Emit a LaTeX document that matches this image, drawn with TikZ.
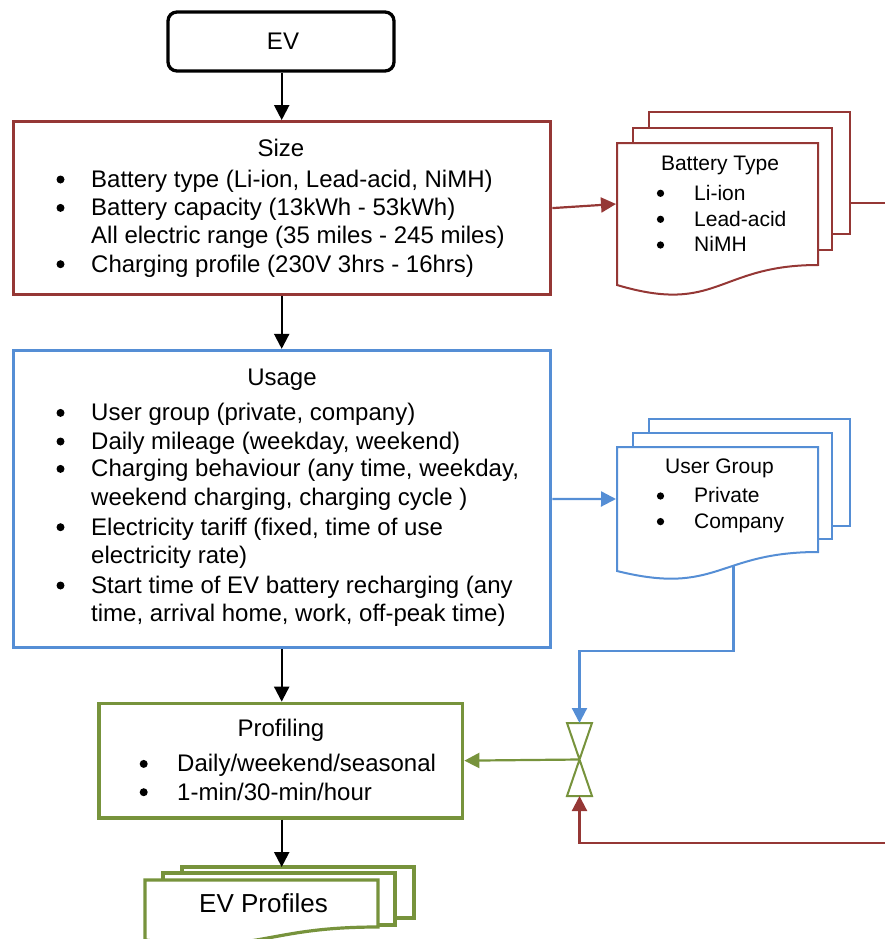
\documentclass[tikz,border=0pt]{standalone}
\usepackage{fontspec}
\setmainfont{Liberation Sans}
\usetikzlibrary{arrows.meta}
\definecolor{cred}{HTML}{953735}
\definecolor{cblue}{HTML}{558ED5}
\definecolor{cgreen}{HTML}{77933C}
\begin{document}
\begin{tikzpicture}[x=1pt,y=-1pt,
  conn/.style={line width=2.2pt},
  arr/.style={conn,-{Triangle[length=15pt,width=15pt]}},
  box/.style={draw,line width=3.3pt,inner sep=0pt},
  doc/.style={draw,line width=2pt,fill=white},
  body/.style={inner sep=0pt,anchor=base west,font=\fontsize{24}{28}\selectfont},
  head/.style={inner sep=0pt,anchor=base,font=\fontsize{24}{28}\selectfont},
  dbody/.style={inner sep=0pt,anchor=base west,font=\fontsize{21}{25}\selectfont},
  dhead/.style={inner sep=0pt,anchor=base,font=\fontsize{21}{25}\selectfont},
  dot/.style={circle,fill=black,inner sep=0pt,minimum size=8pt},
  ddot/.style={dot,minimum size=7.3pt},
]
\useasboundingbox (0,0) rectangle (885,939);
\clip (0,0) rectangle (885,939);

% ---------- EV ----------
\node[box,rounded corners=9pt,minimum width=226pt,minimum height=59pt] (ev) at (281,41.5) {};
\node[head] (evt) at (283,49.5) {EV};

% ---------- Size ----------
\node[box,draw=cred,minimum width=537.4pt,minimum height=172.8pt] (size) at (282,208.1) {};
\node[head] (sizet) at (281,156.2) {Size};
\node[dot] (sd1) at (60.5,179.5) {};
\node[body] (s1) at (91,187.3) {Battery type (Li-ion, Lead-acid, NiMH)};
\node[dot] (sd2) at (60.5,207.9) {};
\node[body] (s2) at (91,215.7) {Battery capacity (13kWh - 53kWh)};
\node[body] (s3) at (91,243.7) {All electric range (35 miles - 245 miles)};
\node[dot] (sd4) at (60.5,264.2) {};
\node[body] (s4) at (91,272) {Charging profile (230V 3hrs - 16hrs)};

% ---------- Usage ----------
\node[box,draw=cblue,minimum width=537.4pt,minimum height=296.8pt] (usage) at (282,498.9) {};
\node[head] (usaget) at (282,385) {Usage};
\node[dot] (ud1) at (60.5,412.9) {};
\node[body] (u1) at (91,420.7) {User group (private, company)};
\node[dot] (ud2) at (60.5,441.5) {};
\node[body] (u2) at (91,449.3) {Daily mileage (weekday, weekend)};
\node[dot] (ud3) at (60.5,468.9) {};
\node[body] (u3) at (91,476.7) {Charging behaviour (any time, weekday,};
\node[body] (u4) at (91,505) {weekend charging, charging cycle )};
\node[dot] (ud5) at (60.5,527.2) {};
\node[body] (u5) at (91,535) {Electricity tariff (fixed, time of use};
\node[body] (u6) at (91,563.3) {electricity rate)};
\node[dot] (ud7) at (60.5,585.5) {};
\node[body] (u7) at (91,593.3) {Start time of EV battery recharging (any};
\node[body] (u8) at (91,621.7) {time, arrival home, work, off-peak time)};

% ---------- Profiling ----------
\node[box,draw=cgreen,minimum width=363.7pt,minimum height=114.7pt] (prof) at (280.85,760.65) {};
\node[head] (proft) at (281,736.7) {Profiling};
\node[dot] (pd1) at (143.7,763.9) {};
\node[body] (p1) at (177,771.7) {Daily/weekend/seasonal};
\node[dot] (pd2) at (143.7,792.2) {};
\node[body] (p2) at (177,800) {1-min/30-min/hour};

% ---------- Battery Type documents ----------
\draw[doc,draw=cred] (649,112) rectangle (850,234);
\draw[doc,draw=cred] (633,128) rectangle (832,250);
\draw[doc,draw=cred] (617,143) -- (818,143) -- (818,265)
  .. controls (717.5,265) and (717.5,315) .. (617,285) -- cycle;
\node[dhead] (btt) at (720,170) {Battery Type};
\node[ddot] (bd1) at (660.5,193.3) {};
\node[dbody] (b1) at (694,200) {Li-ion};
\node[ddot] (bd2) at (660.5,219.3) {};
\node[dbody] (b2) at (694,226) {Lead-acid};
\node[ddot] (bd3) at (660.5,245) {};
\node[dbody] (b3) at (694,251.7) {NiMH};
\coordinate (btin) at (616,204);
\coordinate (btout) at (850,203);
\coordinate (btexit) at (895,203);

% ---------- User Group documents ----------
\draw[doc,draw=cblue] (649,419) rectangle (850,526);
\draw[doc,draw=cblue] (633,433) rectangle (832,539);
\draw[doc,draw=cblue] (617,447) -- (818,447) -- (818,552)
  .. controls (717.5,552) and (717.5,596) .. (617,571) -- cycle;
\node[dhead] (ugt) at (719.5,473.3) {User Group};
\node[ddot] (gd1) at (660.5,496) {};
\node[dbody] (g1) at (694,502.7) {Private};
\node[ddot] (gd2) at (660.5,521.6) {};
\node[dbody] (g2) at (694,528.3) {Company};
\coordinate (ugin) at (616,499);
\coordinate (ugout) at (733.5,566);

% ---------- EV Profiles documents ----------
\draw[doc,draw=cgreen,line width=3.2pt] (182,867) rectangle (414,918);
\draw[doc,draw=cgreen,line width=3.2pt] (163,873) rectangle (395,925);
\draw[doc,draw=cgreen,line width=3.2pt] (145,880) -- (378,880) -- (378,927)
  .. controls (261.5,927) and (261.5,955) .. (145,940) -- cycle;
\node[head,font=\fontsize{26}{30}\selectfont] (evpt) at (263.5,912.7) {EV Profiles};
\coordinate (evptop) at (281.7,867);

% ---------- Collate ----------
\draw[draw=cgreen,line width=2pt,fill=white] (567,723) -- (592,723) -- (567,796) -- (592,796) -- cycle;
\coordinate (col) at (579.5,759.5);
\coordinate (coltop) at (579.5,723);
\coordinate (colbot) at (579.5,796);
\coordinate (redin) at (895,843);

% ---------- Connectors ----------
\draw[arr] (ev.south -| 281.7,0) -- (size.north -| 281.7,0);
\draw[arr] (size.south -| 281.7,0) -- (usage.north -| 281.7,0);
\draw[arr] (usage.south -| 281.7,0) -- (prof.north -| 281.7,0);
\draw[arr] (prof.south -| 281.7,0) -- (evptop);
\draw[arr,cred] (size.east) -- (btin);
\draw[conn,cred] (btout) -- (btexit);
\draw[arr,cblue] (usage.east) -- (ugin);
\draw[arr,cblue] (ugout) -- ++(0,85) -| (coltop);
\draw[arr,cred] (redin) -| (colbot);
\draw[arr,cgreen] (col) -- (prof.east);
\end{tikzpicture}
\end{document}
